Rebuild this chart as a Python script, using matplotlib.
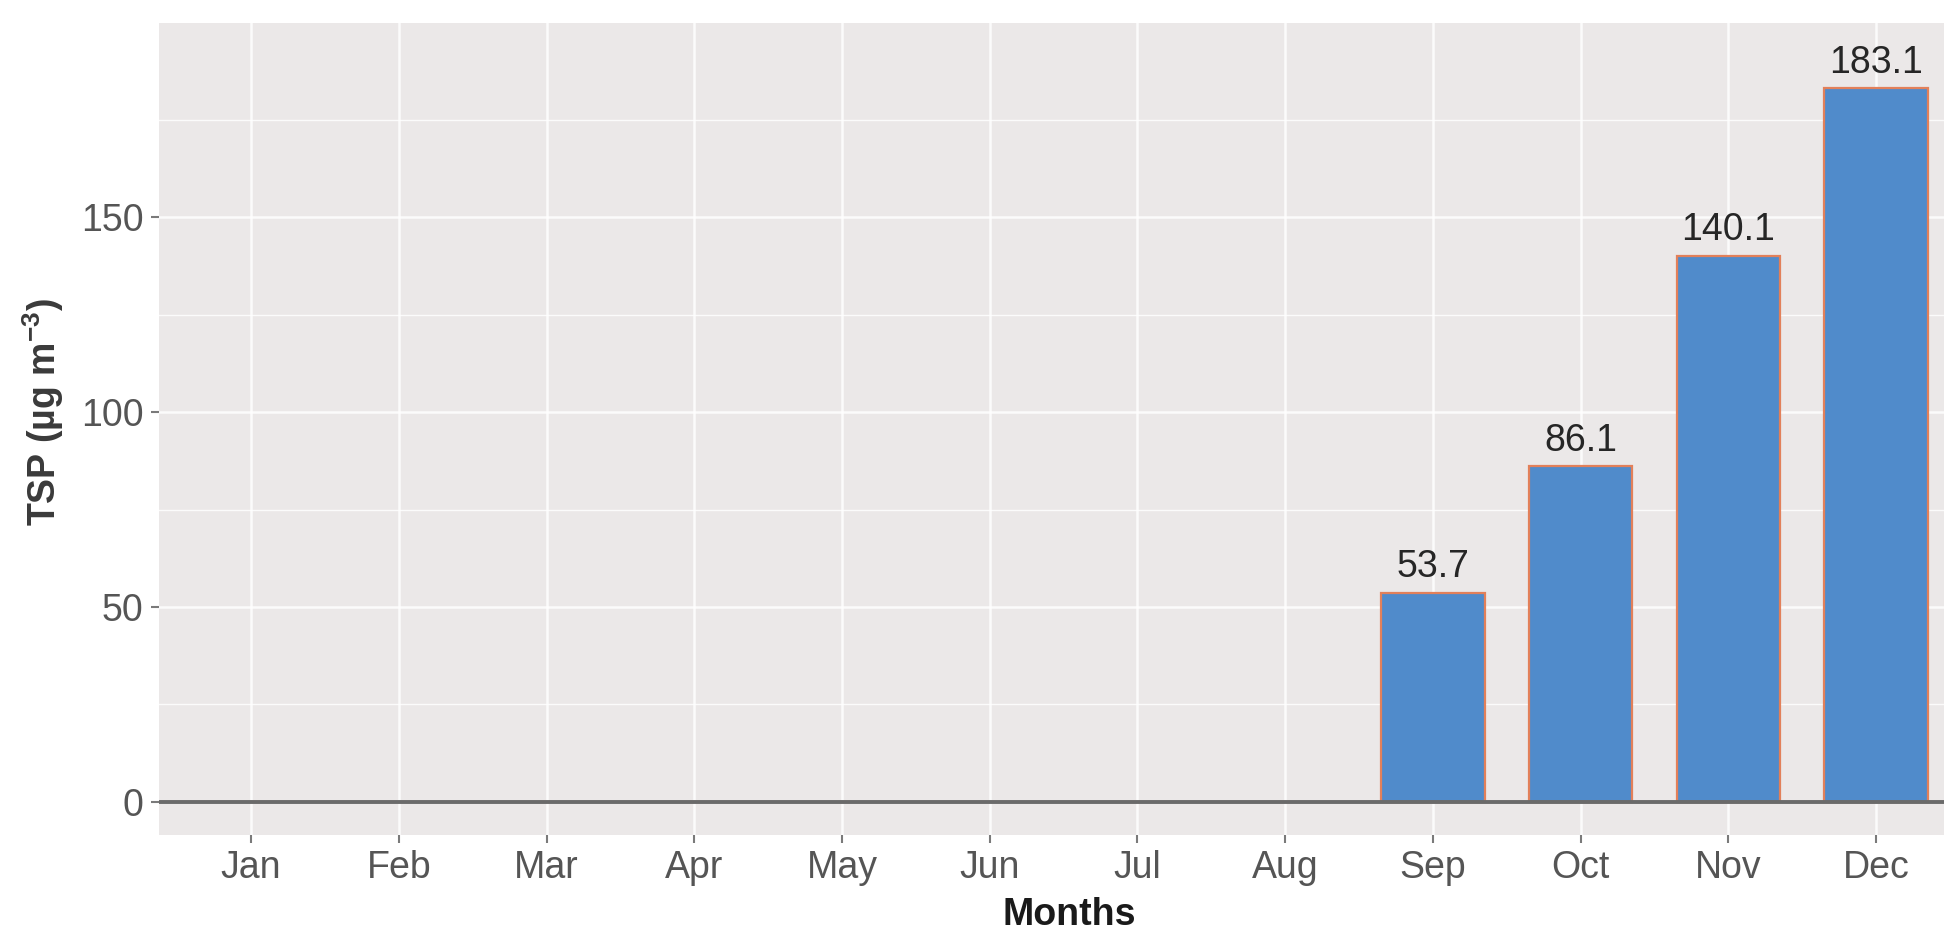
import matplotlib
matplotlib.use("Agg")
import matplotlib.pyplot as plt
from matplotlib.ticker import MultipleLocator

months = ["Jan", "Feb", "Mar", "Apr", "May", "Jun",
          "Jul", "Aug", "Sep", "Oct", "Nov", "Dec"]
tsp = [0, 0, 0, 0, 0, 0, 0, 0, 53.7, 86.1, 140.1, 183.1]
y_ticks = [0, 50, 100, 150]

plt.rcParams["font.family"] = ["Liberation Sans", "DejaVu Sans"]
plt.rcParams["mathtext.fontset"] = "custom"
plt.rcParams["mathtext.rm"] = "Liberation Sans:bold"

fig = plt.figure(figsize=(19.44, 9.36), dpi=100)
ax = fig.add_axes([0.0818, 0.1079, 0.9182, 0.8675])
ax.set_facecolor("#EBE8E8")

x = list(range(len(months)))
shown = [i for i, v in enumerate(tsp) if v > 0]

ax.bar([x[i] for i in shown], [tsp[i] for i in shown], width=0.7,
       color="#508BCB", edgecolor="#E2805A", linewidth=1.6, zorder=3)
for i in shown:
    ax.annotate(f"{tsp[i]:.1f}", (x[i], tsp[i]), xytext=(0, 11),
                textcoords="offset points", ha="center", va="baseline",
                fontsize=27, color="#262626", zorder=4)

ax.axhline(0, color="#6A6A6A", linewidth=2.8, zorder=5)

ax.set_xlim(-0.623, 11.46)
ax.set_ylim(-8.5, 199.8)
ax.set_xticks(x)
ax.set_xticklabels(months)
ax.set_yticks(y_ticks)
ax.yaxis.set_minor_locator(MultipleLocator(25))

ax.grid(which="major", color="white", linewidth=1.8, alpha=0.85, zorder=0)
ax.grid(which="minor", axis="y", color="white", linewidth=1.0, alpha=0.85, zorder=0)
ax.set_axisbelow(True)
for s in ax.spines.values():
    s.set_visible(False)

ax.tick_params(which="major", length=6, width=1.5, color="#7A7A7A",
               labelsize=27, labelcolor="#555555", pad=5)
ax.tick_params(which="minor", length=0)

fig.text(0.022, 0.56, "TSP (µg m$^{\\mathregular{-3}}$)", rotation=90,
         ha="center", va="center", fontsize=27, fontweight="bold",
         color="#3A3A3A")
fig.text(0.55, 0.012, "Months", ha="center", va="baseline",
         fontsize=27, fontweight="bold", color="#1A1A1A")

fig.savefig("out.png", dpi=100)
